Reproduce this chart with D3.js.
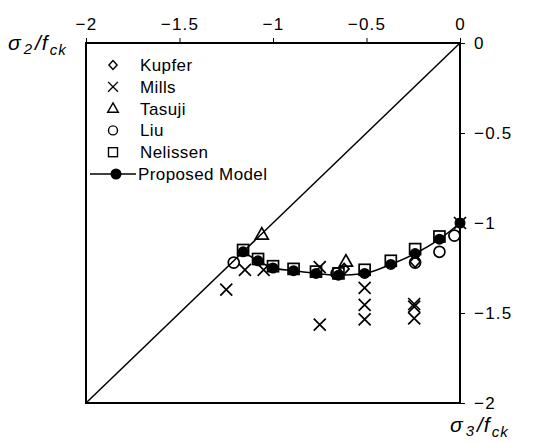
<!DOCTYPE html>
<html><head><meta charset="utf-8">
<script src="https://cdn.jsdelivr.net/npm/d3@7"></script>
<style>
body{margin:0;background:#fff;}
text{font-family:"Liberation Sans",Arial,sans-serif;fill:#000;}
</style></head>
<body>
<svg id="c" width="539" height="442"></svg>
<script>
const xTicks = [-2, -1.5, -1, -0.5, 0];
const yTicks = [0, -0.5, -1, -1.5, -2];

const proposedS3 = [-1.16, -1.08, -1.0, -0.89, -0.77, -0.65, -0.51, -0.37, -0.24, -0.11, 0];
const proposedS2 = [-1.16, -1.21, -1.25, -1.265, -1.28, -1.29, -1.28, -1.23, -1.17, -1.09, -1.0];

const nelissenS3 = [-1.16, -1.08, -1.0, -0.89, -0.77, -0.65, -0.51, -0.37, -0.24, -0.11];
const nelissenS2 = [-1.15, -1.2, -1.24, -1.255, -1.27, -1.28, -1.26, -1.21, -1.145, -1.075];

const liuS3 = [-1.21, -0.66, -0.24, -0.11, -0.03];
const liuS2 = [-1.22, -1.28, -1.22, -1.16, -1.07];

const kupferS3 = [-0.24, -0.62];
const kupferS2 = [-1.215, -1.255];

const millsS3 = [-1.25, -1.15, -1.05, -0.75, -0.75, -0.51, -0.51, -0.51, -0.245, -0.245, -0.245, 0];
const millsS2 = [-1.37, -1.26, -1.26, -1.245, -1.565, -1.36, -1.455, -1.535, -1.45, -1.465, -1.53, -1.0];

const tasujiS3 = [-1.06, -0.61];
const tasujiS2 = [-1.065, -1.215];

const legendNames = ["Kupfer", "Mills", "Tasuji", "Liu", "Nelissen", "Proposed Model"];

const svg = d3.select("#c");
const L = 86, R = 460, T = 43, B = 403;
const x = d3.scaleLinear().domain([-2, 0]).range([L, R]);
const y = d3.scaleLinear().domain([0, -2]).range([T, B]);
const fmt = d => d === 0 ? "0" : d3.format("")(d);

// axes
const gTop = svg.append("g").attr("transform", `translate(0,${T})`)
  .call(d3.axisTop(x).tickValues(xTicks).tickSize(5).tickPadding(8).tickFormat(fmt));
const gRight = svg.append("g").attr("transform", `translate(${R},0)`)
  .call(d3.axisRight(y).tickValues(yTicks).tickSize(5).tickPadding(9).tickFormat(fmt));
[gTop, gRight].forEach(g => {
  g.select(".domain").remove();
  g.selectAll("line").attr("stroke", "#000").attr("stroke-width", 1);
  g.selectAll("text").attr("font-size", 17).attr("letter-spacing", 1.2)
    .attr("font-family", "'Liberation Sans',Arial,sans-serif").attr("fill", "#000");
});

// frame
svg.append("rect").attr("x", L).attr("y", T).attr("width", R - L).attr("height", B - T)
  .attr("fill", "none").attr("stroke", "#000").attr("stroke-width", 2);

// diagonal
svg.append("line").attr("x1", x(-2)).attr("y1", y(-2)).attr("x2", x(0)).attr("y2", y(0))
  .attr("stroke", "#000").attr("stroke-width", 1.5);

const zip = (a, b) => a.map((v, i) => [v, b[i]]);

function drawSym(g, type, cx, cy, k) {
  k = k || 1;
  const s = g.append("g").attr("transform", `translate(${cx},${cy}) scale(${k})`);
  const sw = 1.7;
  if (type === "diamond") {
    s.append("path").attr("d", "M0,-5.5L5,0L0,5.5L-5,0Z").attr("fill", "none").attr("stroke", "#000").attr("stroke-width", sw);
  } else if (type === "x") {
    s.append("path").attr("d", "M-6,-6L6,6M-6,6L6,-6").attr("stroke", "#000").attr("stroke-width", sw).attr("fill", "none");
  } else if (type === "tri") {
    s.append("path").attr("d", "M0,-7L6.5,4.5L-6.5,4.5Z").attr("fill", "none").attr("stroke", "#000").attr("stroke-width", sw);
  } else if (type === "circle") {
    s.append("circle").attr("r", 5.5).attr("fill", "none").attr("stroke", "#000").attr("stroke-width", sw);
  } else if (type === "square") {
    s.append("rect").attr("x", -5.5).attr("y", -5.5).attr("width", 11).attr("height", 11).attr("fill", "none").attr("stroke", "#000").attr("stroke-width", sw);
  } else if (type === "dot") {
    s.append("circle").attr("r", 5.5).attr("fill", "#000");
  }
}

const gData = svg.append("g");
gData.append("path").datum(zip(proposedS3, proposedS2))
  .attr("d", d3.line().x(d => x(d[0])).y(d => y(d[1])).curve(d3.curveMonotoneX))
  .attr("fill", "none").attr("stroke", "#000").attr("stroke-width", 1.5);

zip(nelissenS3, nelissenS2).forEach(d => drawSym(gData, "square", x(d[0]), y(d[1])));
zip(proposedS3, proposedS2).forEach(d => drawSym(gData, "dot", x(d[0]), y(d[1])));
zip(liuS3, liuS2).forEach(d => drawSym(gData, "circle", x(d[0]), y(d[1])));
zip(kupferS3, kupferS2).forEach(d => drawSym(gData, "diamond", x(d[0]), y(d[1])));
zip(millsS3, millsS2).forEach(d => drawSym(gData, "x", x(d[0]), y(d[1])));
zip(tasujiS3, tasujiS2).forEach(d => drawSym(gData, "tri", x(d[0]), y(d[1])));

// legend
const lg = svg.append("g");
const types = ["diamond", "x", "tri", "circle", "square"];
legendNames.forEach((n, i) => {
  const yy = 65 + i * 21.8;
  if (i < 5) {
    drawSym(lg, types[i], 113, yy, 0.82);
  } else {
    lg.append("line").attr("x1", 90).attr("x2", 136).attr("y1", yy).attr("y2", yy).attr("stroke", "#000").attr("stroke-width", 1.5);
    drawSym(lg, "dot", 116, yy);
  }
  lg.append("text").attr("x", i < 5 ? 140 : 138).attr("y", yy + 6).attr("font-size", 17)
    .attr("letter-spacing", 0.4).text(n);
});

// axis titles
function title(xx, yy, sub) {
  const t = svg.append("text").attr("x", xx).attr("y", yy).attr("font-size", 21).attr("font-style", "italic").attr("letter-spacing", 1);
  t.append("tspan").text("σ");
  t.append("tspan").attr("font-size", 15).attr("dx", 2).attr("dy", 4).text(sub);
  t.append("tspan").attr("font-size", 21).attr("dx", 2).attr("dy", -4).text("/f");
  t.append("tspan").attr("font-size", 15).attr("dx", 1).attr("dy", 5).text("ck");
}
title(8, 50, "2");
title(450, 432, "3");
</script>
</body></html>
